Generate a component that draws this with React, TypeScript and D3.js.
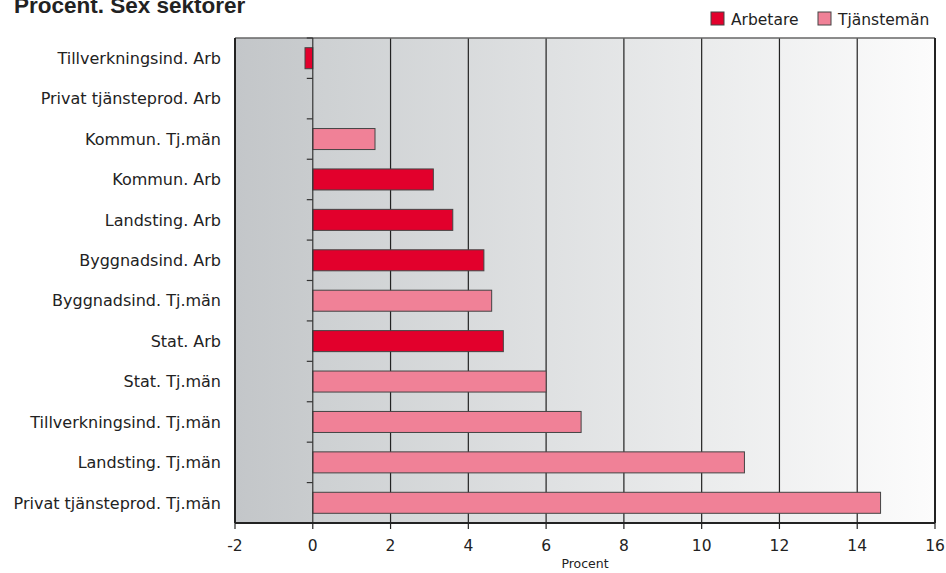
import React from "react";
import * as d3 from "d3";

const categories = [
  "Tillverkningsind. Arb",
  "Privat tjänsteprod. Arb",
  "Kommun. Tj.män",
  "Kommun. Arb",
  "Landsting. Arb",
  "Byggnadsind. Arb",
  "Byggnadsind. Tj.män",
  "Stat. Arb",
  "Stat. Tj.män",
  "Tillverkningsind. Tj.män",
  "Landsting. Tj.män",
  "Privat tjänsteprod. Tj.män",
];
const values = [-0.2, 0, 1.6, 3.1, 3.6, 4.4, 4.6, 4.9, 6.0, 6.9, 11.1, 14.6];
const groups = ["A", "A", "T", "A", "A", "A", "T", "A", "T", "T", "T", "T"];
const xTicks = [-2, 0, 2, 4, 6, 8, 10, 12, 14, 16];
const legendLabels = ["Arbetare", "Tjänstemän"];
const title = "Procent. Sex sektorer";
const xTitle = "Procent";

const W = 946;
const H = 573;
const M = { left: 235, right: 11, top: 38, bottom: 50 };
const COLORS: Record<string, string> = { A: "#e2002c", T: "#f08197" };
const FONT = "'DejaVu Sans', 'Liberation Sans', Arial, sans-serif";

export default function App() {
  const x = d3.scaleLinear().domain([-2, 16]).range([M.left, W - M.right]);
  const y = d3
    .scaleBand<string>()
    .domain(categories)
    .range([M.top, H - M.bottom])
    .paddingInner(0.48)
    .paddingOuter(0.24);
  const top = M.top;
  const bottom = H - M.bottom;
  const boundaries = d3.range(categories.length + 1).map((i) => top + i * ((bottom - top) / categories.length));

  return (
    <svg
      width={W}
      height={H}
      style={{ position: "absolute", left: 0, top: 0, display: "block" }}
      fontFamily={FONT}
    >
      <defs>
        <linearGradient id="gLeft" x1="0" x2="1" y1="0" y2="0">
          <stop offset="0" stopColor="#c3c6c9" />
          <stop offset="1" stopColor="#c9ccce" />
        </linearGradient>
        <linearGradient id="gMain" x1="0" x2="1" y1="0" y2="0">
          <stop offset="0" stopColor="#cdd0d2" />
          <stop offset="1" stopColor="#fcfcfc" />
        </linearGradient>
      </defs>
      <rect x={0} y={0} width={W} height={H} fill="#ffffff" />
      <text x={14} y={12.5} fontFamily="'Liberation Sans Narrow', 'Liberation Sans', Arial" fontWeight="bold" fontSize={22.5} fill="#222">
        {title}
      </text>
      {/* legend */}
      {legendLabels.map((l, i) => {
        const lx = [711, 818][i];
        return (
          <g key={l}>
            <rect x={lx} y={12} width={13} height={13} fill={COLORS[i === 0 ? "A" : "T"]} stroke="#444" strokeWidth={1} />
            <text x={lx + 20} y={24.5} fontSize={15.5} fill="#222">
              {l}
            </text>
          </g>
        );
      })}
      {/* background */}
      <rect x={x(-2)} y={top} width={x(0) - x(-2)} height={bottom - top} fill="url(#gLeft)" />
      <rect x={x(0)} y={top} width={x(16) - x(0)} height={bottom - top} fill="url(#gMain)" />
      {/* grid */}
      {xTicks.filter((t) => t > 0 && t < 16).map((t) => (
        <line key={t} x1={x(t)} x2={x(t)} y1={top} y2={bottom} stroke="#222" strokeWidth={1.2} />
      ))}
      <line x1={x(-2)} x2={x(16)} y1={top} y2={top} stroke="#666" strokeWidth={1.5} />
      <line x1={x(16)} x2={x(16)} y1={top} y2={bottom} stroke="#222" strokeWidth={2} />
      <line x1={x(-2)} x2={x(-2)} y1={top} y2={bottom} stroke="#222" strokeWidth={2} />
      {/* bars */}
      {categories.map((c, i) => {
        const v = values[i];
        const x0 = x(Math.min(0, v));
        const w = Math.abs(x(v) - x(0));
        return (
          <rect
            key={c}
            x={x0}
            y={y(c)}
            width={w}
            height={y.bandwidth()}
            fill={COLORS[groups[i]]}
            stroke="#444"
            strokeWidth={1}
          />
        );
      })}
      {/* y axis */}
      <line x1={x(0)} x2={x(0)} y1={top} y2={bottom} stroke="#333" strokeWidth={1.2} />
      {boundaries.map((b, i) => (
        <line key={i} x1={x(0) - 6} x2={x(0)} y1={b} y2={b} stroke="#333" strokeWidth={1.2} />
      ))}
      {categories.map((c) => (
        <text key={c} x={221} y={(y(c) as number) + y.bandwidth() / 2} dy="0.36em" textAnchor="end" fontSize={16} fill="#222">
          {c}
        </text>
      ))}
      {/* x axis */}
      <line x1={x(-2)} x2={x(16)} y1={bottom} y2={bottom} stroke="#222" strokeWidth={2} />
      {xTicks.map((t) => (
        <g key={t}>
          <line x1={x(t)} x2={x(t)} y1={bottom} y2={bottom + 6} stroke="#222" strokeWidth={1.2} />
          <text x={x(t)} y={bottom + 28} textAnchor="middle" fontSize={15.5} fill="#222">
            {t}
          </text>
        </g>
      ))}
      <text x={(x(-2) + x(16)) / 2} y={bottom + 45} textAnchor="middle" fontSize={12.5} fill="#222">
        {xTitle}
      </text>
    </svg>
  );
}
